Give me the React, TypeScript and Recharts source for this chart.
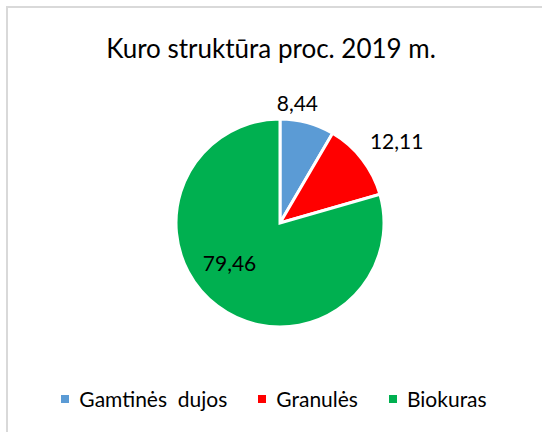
import { PieChart, Pie, Cell, Legend } from "recharts";

const fuels = ["Gamtinės  dujos", "Granulės", "Biokuras"];
const shares = [8.44, 12.11, 79.46];
const colors = ["#5B9BD5", "#FF0000", "#00B050"];

const data = fuels.map((name, i) => ({ name, value: shares[i] }));

const FONT = "Lato, 'Noto Sans', sans-serif";
const RAD = Math.PI / 180;

const fmt = (v: number) => v.toFixed(2).replace(".", ",");

// rough imitation of Excel's "best fit" placement
const renderLabel = (props: any) => {
  const { cx, cy, midAngle, outerRadius, index, value } = props;
  let angle = midAngle;
  let r = outerRadius + 18;
  if (index === 0) angle = midAngle + 7;
  if (index === 1) {
    angle = midAngle - 2.5;
    r = outerRadius + 39;
  }
  if (index === 2) {
    angle = midAngle - 15;
    r = 64;
  }
  const x = cx + r * Math.cos(-angle * RAD);
  const y = cy + r * Math.sin(-angle * RAD);
  return (
    <text
      x={x}
      y={y}
      fill="#000"
      textAnchor="middle"
      dominantBaseline="central"
      style={{ fontFamily: FONT, fontSize: 21 }}
    >
      {fmt(value)}
    </text>
  );
};

// legend keeps the series order (recharts would sort it)
const LegendContent = () => (
  <div style={{ display: "flex", justifyContent: "center", fontFamily: FONT, fontSize: 21, color: "#000" }}>
    {fuels.map((name, i) => (
      <div key={name} style={{ display: "flex", alignItems: "center", marginRight: i < fuels.length - 1 ? 31 : 0 }}>
        <span style={{ width: 8, height: 8, background: colors[i], marginRight: 10, display: "inline-block" }} />
        <span style={{ whiteSpace: "pre" }}>{name}</span>
      </div>
    ))}
  </div>
);

export default function App() {
  return (
    <div style={{ position: "absolute", left: 0, top: 0, width: 542, height: 432, overflow: "hidden", background: "#fff" }}>
      <div
        style={{
          position: "absolute",
          left: 6,
          top: 6,
          width: 600,
          height: 500,
          border: "2px solid #d9d9d9",
        }}
      />
      <div
        style={{
          position: "absolute",
          left: 0,
          top: 32,
          width: 542,
          textAlign: "center",
          fontFamily: FONT,
          fontSize: 26,
          color: "#000",
        }}
      >
        Kuro struktūra proc. 2019 m.
      </div>
      <div style={{ position: "absolute", left: 0, top: 0 }}>
        <PieChart width={542} height={432} margin={{ top: 0, right: 0, bottom: 0, left: 0 }}>
          <Pie
            data={data}
            dataKey="value"
            nameKey="name"
            cx={280}
            cy={223}
            outerRadius={104}
            startAngle={90}
            endAngle={-270}
            stroke="#fff"
            strokeWidth={3}
            label={renderLabel}
            labelLine={false}
            isAnimationActive={false}
          >
            {data.map((d, i) => (
              <Cell key={d.name} fill={colors[i]} />
            ))}
          </Pie>
          <Legend
            content={<LegendContent />}
            wrapperStyle={{ position: "absolute", left: 3, top: 386, width: 542 }}
          />
        </PieChart>
      </div>
    </div>
  );
}
